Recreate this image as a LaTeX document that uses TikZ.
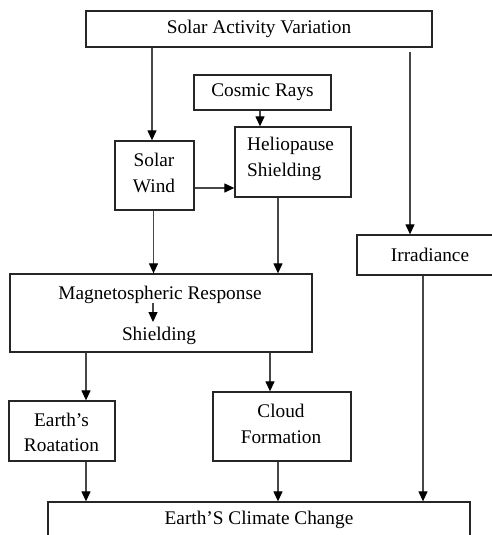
\documentclass[tikz,border=0pt]{standalone}
\usepackage{fontspec}
\setmainfont{Liberation Serif}
\usetikzlibrary{arrows.meta}
\begin{document}
\begin{tikzpicture}[x=1pt,y=-1pt,
  box/.style={draw=black!85, line width=1.3pt, inner sep=0pt, align=center,
    font=\fontsize{19.3}{25.5}\selectfont},
  txt/.style={inner sep=0pt, align=center, font=\fontsize{19.3}{25.5}\selectfont},
  arr/.style={draw=black!72, line width=1.25pt, -{Triangle[length=10pt,width=9pt,color=black]}}]
\clip (0,0) rectangle (492,535);
\fill[white] (0,0) rectangle (492,535);
% boxes
\node[box, minimum width=346, minimum height=36] (sav) at (259,29) {Solar Activity Variation};
\node[box, minimum width=137, minimum height=35] (cr) at (262.5,92.5) {Cosmic Rays};
\node[box, minimum width=116, minimum height=70] (hs) at (293,162) {};
\node[txt, align=left, anchor=north west] (hst) at (247,137) {Heliopause\\Shielding};
\node[box, minimum width=79, minimum height=69] (sw) at (154.5,175.5) {};
\node[txt] (swt) at (154,173) {Solar\\Wind};
\node[box, minimum width=146, minimum height=40] (irr) at (430,255) {Irradiance};
\node[box, minimum width=302, minimum height=78] (ms) at (161,313) {};
\node[txt, anchor=base] (mt1) at (160,299.5) {Magnetospheric Response};
\node[txt, anchor=base] (mt2) at (159,340) {Shielding};
\node[box, minimum width=106, minimum height=60] (er) at (62,431) {};
\node[txt] (ert) at (61.5,432.5) {Earth’s\\Roatation};
\node[box, minimum width=138, minimum height=69] (cf) at (282,426.5) {};
\node[txt] (cft) at (281,424) {Cloud\\Formation};
\node[box, minimum width=422, minimum height=36] (ecc) at (259,520) {Earth’S Climate Change};
\coordinate (ma) at (153,303);
\coordinate (mb) at (153,322);
% connectors
\draw[arr] ([xshift=-2.5pt]sw.north |- sav.south) -- ([xshift=-2.5pt]sw.north);
\draw[arr, shorten <=4pt] ([xshift=-20pt]irr.north |- sav.south) -- ([xshift=-20pt]irr.north);
\draw[arr] ([xshift=-2.5pt]cr.south) -- ([xshift=-2.5pt]cr.south |- hs.north);
\draw[arr] ([yshift=-12.5pt]sw.east) -- ([yshift=-12.5pt]sw.east -| hs.west);
\draw[arr] ([xshift=-1pt]sw.south) -- ([xshift=-1pt]sw.south |- ms.north);
\draw[arr] ([xshift=-15pt]hs.south) -- ([xshift=-15pt]hs.south |- ms.north);
\draw[arr] (ma) -- (mb);
\draw[arr] ([xshift=24pt]er.north |- ms.south) -- ([xshift=24pt]er.north);
\draw[arr] ([xshift=-12pt]cf.north |- ms.south) -- ([xshift=-12pt]cf.north);
\draw[arr] ([xshift=24pt]er.south) -- ([xshift=24pt]er.south |- ecc.north);
\draw[arr] ([xshift=-4pt]cf.south) -- ([xshift=-4pt]cf.south |- ecc.north);
\draw[arr] ([xshift=-7pt]irr.south) -- ([xshift=-7pt]irr.south |- ecc.north);
\end{tikzpicture}
\end{document}
